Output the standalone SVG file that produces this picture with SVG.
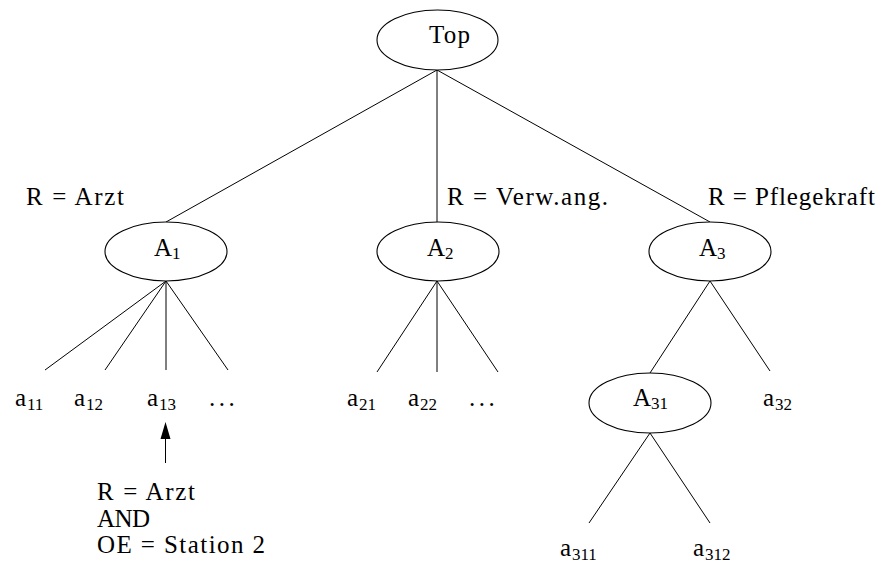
<svg xmlns="http://www.w3.org/2000/svg" width="880" height="563" viewBox="0 0 880 563">
<style>
  text { font-family: 'Liberation Serif', 'Times New Roman', serif; font-size: 25px; fill: #000; }
  .sub { font-size: 17px; }
  .node ellipse { fill: #fff; stroke: #000; stroke-width: 1.1; }
  #connectors line { stroke: #000; stroke-width: 1; }
</style>
<rect width="880" height="563" fill="#fff"/>
<g id="connectors">
  <line x1="437" y1="70" x2="166" y2="222"/>
  <line x1="437" y1="70" x2="437" y2="222"/>
  <line x1="437" y1="70" x2="710" y2="222"/>
  <line x1="166" y1="281" x2="45" y2="370"/>
  <line x1="166" y1="281" x2="105" y2="370"/>
  <line x1="166" y1="281" x2="166" y2="370"/>
  <line x1="166" y1="281" x2="228" y2="370"/>
  <line x1="437" y1="281" x2="377" y2="372"/>
  <line x1="437" y1="281" x2="437" y2="372"/>
  <line x1="437" y1="281" x2="498" y2="372"/>
  <line x1="710" y1="281" x2="650" y2="373"/>
  <line x1="710" y1="281" x2="770" y2="371"/>
  <line x1="650" y1="433" x2="589" y2="523"/>
  <line x1="650" y1="433" x2="710" y2="523"/>
  <line x1="165.5" y1="437" x2="165.5" y2="463"/>
  <polygon points="165.5,422 160.5,439 170.5,439" fill="#000"/>
</g>
<g id="edge-labels">
  <text x="26" y="205" textLength="98" lengthAdjust="spacing">R = Arzt</text>
  <text x="447" y="205" textLength="161" lengthAdjust="spacing">R = Verw.ang.</text>
  <text x="708" y="205" textLength="167" lengthAdjust="spacing">R = Pflegekraft</text>
</g>
<g id="node-top" class="node">
  <ellipse cx="437.5" cy="40" rx="60.5" ry="30"/>
  <text x="429" y="43" textLength="41" lengthAdjust="spacing">Top</text>
</g>
<g id="node-A1" class="node">
  <ellipse cx="166" cy="251.5" rx="61" ry="29.5"/>
  <text x="154" y="256">A</text><text class="sub" x="172" y="259">1</text>
</g>
<g id="node-A2" class="node">
  <ellipse cx="438" cy="251.5" rx="61" ry="29.5"/>
  <text x="427" y="256">A</text><text class="sub" x="445" y="259">2</text>
</g>
<g id="node-A3" class="node">
  <ellipse cx="710" cy="251.5" rx="61" ry="29.5"/>
  <text x="699" y="256">A</text><text class="sub" x="717" y="259">3</text>
</g>
<g id="node-A31" class="node">
  <ellipse cx="650" cy="403" rx="61" ry="30"/>
  <text x="633" y="406">A</text><text class="sub" x="651" y="409">31</text>
</g>
<g id="leaf-a11"><text x="15" y="406">a</text><text class="sub" x="27" y="410">11</text></g>
<g id="leaf-a12"><text x="74" y="406">a</text><text class="sub" x="86" y="410">12</text></g>
<g id="leaf-a13"><text x="147" y="406">a</text><text class="sub" x="159" y="410">13</text></g>
<g id="leaf-dots1"><text x="209" y="406" letter-spacing="3.5">...</text></g>
<g id="leaf-a21"><text x="347" y="406">a</text><text class="sub" x="359" y="410">21</text></g>
<g id="leaf-a22"><text x="408" y="406">a</text><text class="sub" x="420" y="410">22</text></g>
<g id="leaf-dots2"><text x="469" y="406" letter-spacing="3.5">...</text></g>
<g id="leaf-a32"><text x="763" y="406">a</text><text class="sub" x="775" y="410">32</text></g>
<g id="leaf-a311"><text x="560" y="556">a</text><text class="sub" x="572" y="560">311</text></g>
<g id="leaf-a312"><text x="693" y="556">a</text><text class="sub" x="705" y="560">312</text></g>
<g id="note">
  <text x="97" y="500" textLength="98" lengthAdjust="spacing">R = Arzt</text>
  <text x="97" y="527" textLength="53" lengthAdjust="spacing">AND</text>
  <text x="97" y="553" textLength="168" lengthAdjust="spacing">OE = Station 2</text>
</g>
</svg>
